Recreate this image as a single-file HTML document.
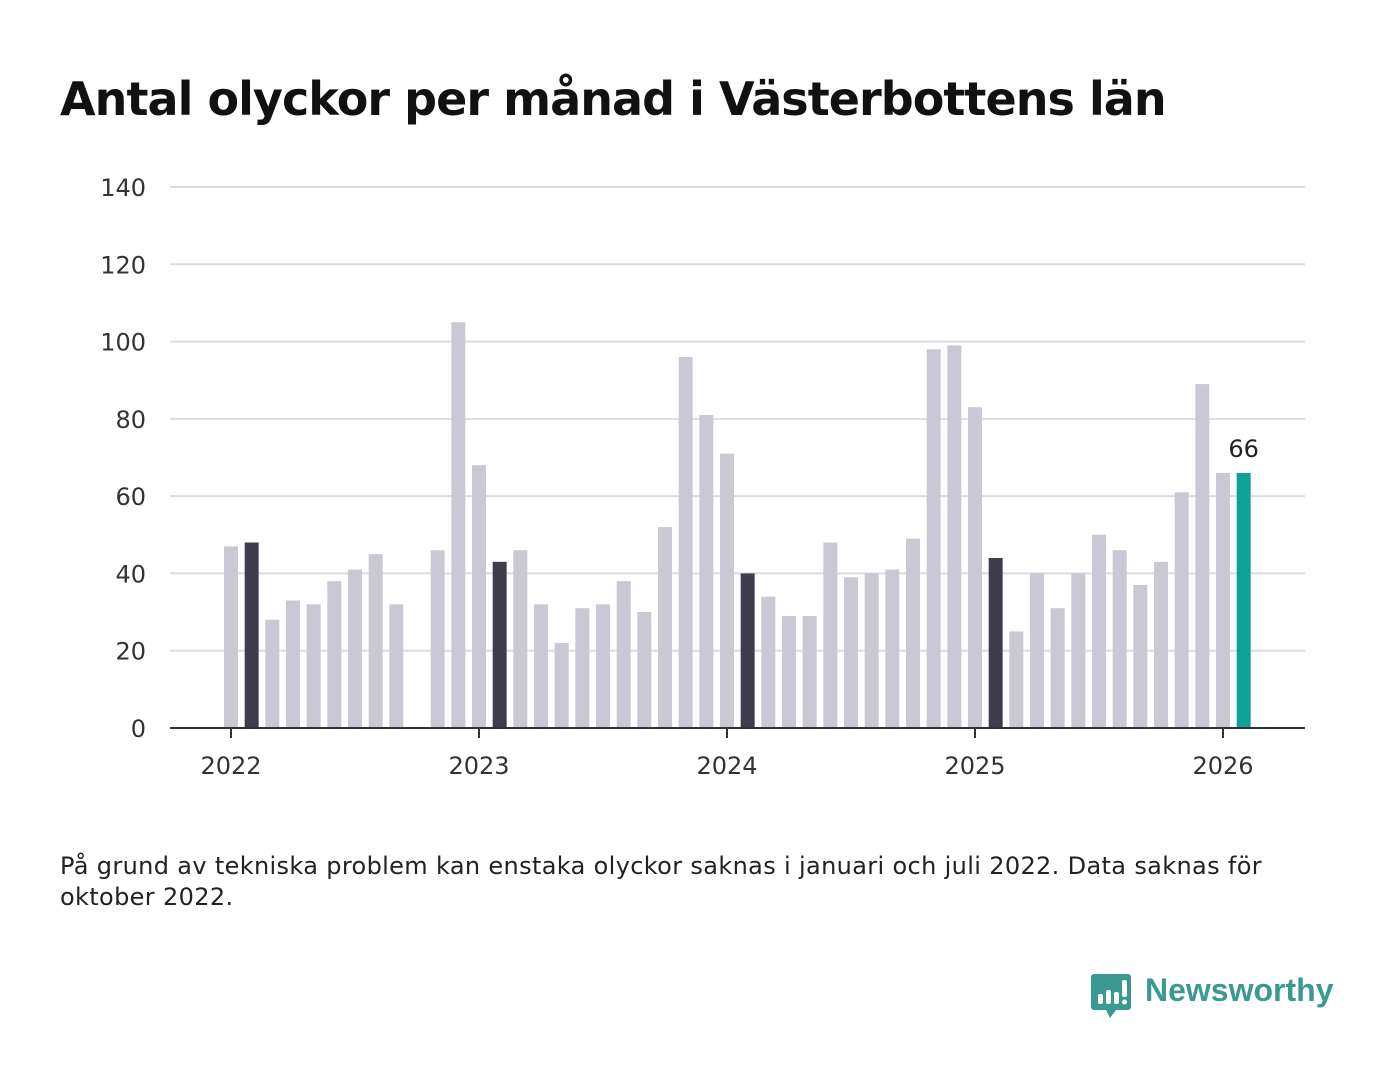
<!DOCTYPE html>
<html><head><meta charset="utf-8"><style>
body{margin:0;width:1400px;height:1080px;background:#fff;font-family:"DejaVu Sans","Liberation Sans",sans-serif;overflow:hidden;position:relative}
h1{position:absolute;left:60px;top:72px;margin:0;font-size:46px;font-weight:bold;color:#111;letter-spacing:-0.95px;white-space:nowrap}
.note{position:absolute;left:60px;top:851px;font-size:24px;line-height:31px;color:#222;width:1290px;letter-spacing:0.35px}
</style></head><body>
<h1>Antal olyckor per månad i Västerbottens län</h1>
<svg id="chart" width="1400" height="1080" style="position:absolute;left:0;top:0"></svg>
<div class="note">På grund av tekniska problem kan enstaka olyckor saknas i januari och juli 2022. Data saknas för oktober 2022.</div>
<div style="position:absolute;left:1091px;top:972px;width:250px;height:50px">
<svg width="42" height="50" style="position:absolute;left:0;top:0"><path d="M3 2h34a3 3 0 0 1 3 3v30a3 3 0 0 1-3 3H25l-6 8-4-8H3a3 3 0 0 1-3-3V5a3 3 0 0 1 3-3z" fill="#3a9a91"/><rect x="7" y="22" width="5" height="10" rx="2" fill="#fff"/><rect x="15" y="18" width="5" height="14" rx="2" fill="#fff"/><rect x="23" y="20" width="5" height="12" rx="2" fill="#fff"/><rect x="31" y="8" width="5" height="17" rx="2" fill="#fff"/><circle cx="33.5" cy="30" r="2.5" fill="#fff"/></svg>
<span style="position:absolute;left:54px;top:0px;font-size:32px;font-weight:bold;color:#3a9a91;font-family:'Liberation Sans',sans-serif">Newsworthy</span>
</div>
<script>
const categories=["2022-01","2022-02","2022-03","2022-04","2022-05","2022-06","2022-07","2022-08","2022-09","2022-10","2022-11","2022-12","2023-01","2023-02","2023-03","2023-04","2023-05","2023-06","2023-07","2023-08","2023-09","2023-10","2023-11","2023-12","2024-01","2024-02","2024-03","2024-04","2024-05","2024-06","2024-07","2024-08","2024-09","2024-10","2024-11","2024-12","2025-01","2025-02","2025-03","2025-04","2025-05","2025-06","2025-07","2025-08","2025-09","2025-10","2025-11","2025-12","2026-01","2026-02"];
const values=[47,48,28,33,32,38,41,45,32,null,46,105,68,43,46,32,22,31,32,38,30,52,96,81,71,40,34,29,29,48,39,40,41,49,98,99,83,44,25,40,31,40,50,46,37,43,61,89,66,66];
const yTicks=[0,20,40,60,80,100,120,140];
const xTickLabels=["2022","2023","2024","2025","2026"];
const NS="http://www.w3.org/2000/svg";
const svg=document.getElementById('chart');
const x=i=>231+i*(992/48);
const y=v=>728-v*(541/140);
function mk(t,a){const e=document.createElementNS(NS,t);for(const k in a)e.setAttribute(k,a[k]);svg.appendChild(e);return e;}
yTicks.forEach(v=>{
 if(v>0){const g=mk('line',{x1:170,x2:1305,y1:y(v),y2:y(v),stroke:'#dcdce0','stroke-width':2});
 
 }
 const t=mk('text',{x:146,y:y(v)+9,'text-anchor':'end','font-size':24,fill:'#333','font-family':'DejaVu Sans, sans-serif'});t.textContent=v;
 
 
});
values.forEach((v,i)=>{
 if(v==null)return;
 const m=i%12;
 const last=i===values.length-1;
 const col=last?'#0fa196':(m===1?'#3f3d4c':'#c9c8d4');
 const r=mk('rect',{x:x(i)-7,y:y(v),width:14,height:y(0)-y(v),fill:col});
 
 
 if(last){const t=mk('text',{x:x(i),y:y(v)-16,'text-anchor':'middle','font-size':24,fill:'#222','font-family':'DejaVu Sans, sans-serif'});t.textContent=v;
 
 }
});
const ax=mk('line',{x1:170,x2:1305,y1:728,y2:728,stroke:'#333','stroke-width':2});


xTickLabels.forEach((l,k)=>{
 const xi=x(k*12);
 const tk=mk('line',{x1:xi,x2:xi,y1:728,y2:738,stroke:'#333','stroke-width':2});
 
 
 const t=mk('text',{x:xi,y:774,'text-anchor':'middle','font-size':24,fill:'#333','font-family':'DejaVu Sans, sans-serif'});t.textContent=l;
 
 
});
</script>
</body></html>
